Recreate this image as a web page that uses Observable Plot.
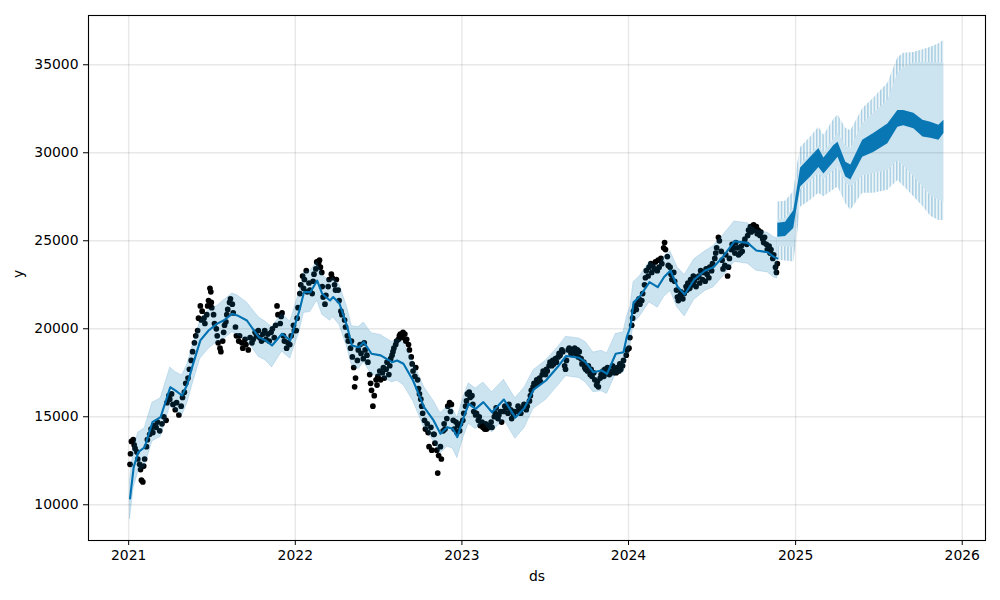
<!DOCTYPE html>
<html><head><meta charset="utf-8">
<script src="https://cdn.jsdelivr.net/npm/d3@7"></script>
<script src="https://cdn.jsdelivr.net/npm/@observablehq/plot@0.6"></script>
<style>body{margin:0;background:#fff}</style>
</head><body><div id="chart"></div>
<script>
// observed points [ds, y]
const obs = [
["2021-01-04",12300],["2021-01-05",12900],["2021-01-07",13600],["2021-01-11",13700],["2021-01-13",13400],["2021-01-15",13200],["2021-01-19",13000],["2021-01-21",12600],["2021-01-25",12300],["2021-01-27",12000],["2021-01-29",11400],
["2021-02-01",11300],["2021-02-03",12200],["2021-02-05",12600],["2021-02-09",13300],["2021-02-11",13700],["2021-02-16",14000],["2021-02-19",14300],["2021-02-23",14100],["2021-02-25",14500],
["2021-03-02",14400],["2021-03-05",14700],["2021-03-10",14200],["2021-03-15",14600],["2021-03-19",15000],["2021-03-24",14800],["2021-03-26",15800],["2021-03-30",16200],
["2021-04-01",16000],["2021-04-05",16300],["2021-04-08",15700],["2021-04-13",15400],["2021-04-16",15800],["2021-04-21",15100],["2021-04-26",15600],["2021-04-29",16100],
["2021-05-03",16400],["2021-05-06",16900],["2021-05-11",17200],["2021-05-14",17700],["2021-05-18",18200],["2021-05-21",18700],["2021-05-25",19200],["2021-05-28",19600],
["2021-06-01",19900],["2021-06-03",20600],["2021-06-07",21300],["2021-06-09",20500],["2021-06-11",21000],["2021-06-15",20600],["2021-06-17",20300],["2021-06-21",20800],["2021-06-23",21300],["2021-06-25",21600],["2021-06-28",22300],["2021-06-30",22100],
["2021-07-01",21500],["2021-07-02",21200],["2021-07-06",20800],["2021-07-08",20300],["2021-07-12",20000],["2021-07-14",19600],["2021-07-16",19200],["2021-07-20",18900],["2021-07-22",18700],["2021-07-26",19300],["2021-07-28",19800],["2021-07-30",20200],
["2021-08-02",20400],["2021-08-04",20800],["2021-08-06",21100],["2021-08-10",21500],["2021-08-12",21700],["2021-08-16",21400],["2021-08-18",20900],["2021-08-23",20100],["2021-08-25",19600],["2021-08-30",19300],
["2021-09-01",19600],["2021-09-06",19200],["2021-09-08",18900],["2021-09-13",19400],["2021-09-15",19100],["2021-09-20",18800],["2021-09-24",19500],["2021-09-28",19200],
["2021-10-01",19400],["2021-10-05",19800],["2021-10-08",19600],["2021-10-12",19900],["2021-10-15",19500],["2021-10-19",19300],["2021-10-22",19700],["2021-10-26",19900],["2021-10-29",19400],
["2021-11-02",19700],["2021-11-05",19300],["2021-11-09",19800],["2021-11-12",20000],["2021-11-16",19500],["2021-11-19",20200],["2021-11-22",21300],["2021-11-24",20800],["2021-11-29",20300],
["2021-12-01",20700],["2021-12-03",20900],["2021-12-06",19600],["2021-12-08",19300],["2021-12-13",18900],["2021-12-16",19200],["2021-12-20",19100],["2021-12-23",19600],["2021-12-28",20200],["2021-12-30",19900],
["2022-01-03",19900],["2022-01-05",20600],["2022-01-07",21200],["2022-01-11",22000],["2022-01-13",22500],["2022-01-17",23000],["2022-01-19",22300],["2022-01-21",22800],["2022-01-25",23300],["2022-01-27",22100],["2022-01-31",22600],
["2022-02-02",22200],["2022-02-07",22000],["2022-02-09",22700],["2022-02-11",23100],["2022-02-15",23400],["2022-02-17",23800],["2022-02-21",23700],["2022-02-23",23900],["2022-02-25",23500],["2022-02-28",23200],
["2022-03-01",22400],["2022-03-03",21800],["2022-03-07",21400],["2022-03-09",21900],["2022-03-14",22400],["2022-03-16",22800],["2022-03-21",23100],["2022-03-23",22900],["2022-03-28",22500],["2022-03-30",22200],
["2022-04-01",22800],["2022-04-05",22200],["2022-04-07",21600],["2022-04-11",21000],["2022-04-13",20800],["2022-04-19",20500],["2022-04-21",20100],["2022-04-25",19600],["2022-04-27",19300],
["2022-05-02",18900],["2022-05-04",19300],["2022-05-06",18400],["2022-05-09",17800],["2022-05-11",16700],["2022-05-13",17200],["2022-05-17",18200],["2022-05-19",18800],["2022-05-23",19100],["2022-05-25",18600],["2022-05-30",18300],
["2022-06-01",19200],["2022-06-03",18800],["2022-06-07",18500],["2022-06-09",18100],["2022-06-13",17400],["2022-06-15",16900],["2022-06-17",16500],["2022-06-20",15600],["2022-06-23",16200],["2022-06-27",17100],["2022-06-29",16800],
["2022-07-01",17300],["2022-07-05",17600],["2022-07-07",17100],["2022-07-11",17500],["2022-07-13",17800],["2022-07-15",17200],["2022-07-19",17700],["2022-07-21",18100],["2022-07-25",17400],["2022-07-27",17900],["2022-07-29",18300],
["2022-08-01",18500],["2022-08-03",18700],["2022-08-05",18900],["2022-08-09",19100],["2022-08-11",19300],["2022-08-15",19400],["2022-08-17",19600],["2022-08-19",19700],["2022-08-23",19500],["2022-08-25",19800],["2022-08-29",19700],["2022-08-31",19300],
["2022-09-02",19400],["2022-09-06",19100],["2022-09-08",18800],["2022-09-12",18400],["2022-09-14",18000],["2022-09-16",17600],["2022-09-20",17300],["2022-09-22",17800],["2022-09-26",17100],["2022-09-28",16600],["2022-09-30",16300],
["2022-10-03",16000],["2022-10-05",15600],["2022-10-07",15200],["2022-10-11",14800],["2022-10-13",14300],["2022-10-17",14600],["2022-10-19",14100],["2022-10-21",13300],["2022-10-25",14400],["2022-10-27",13100],["2022-10-31",14000],
["2022-11-01",14000],["2022-11-03",13500],["2022-11-07",13100],["2022-11-09",11800],["2022-11-11",12800],["2022-11-15",13300],["2022-11-17",12600],["2022-11-21",14200],["2022-11-23",14600],["2022-11-25",14300],["2022-11-29",14900],
["2022-12-01",15600],["2022-12-05",15800],["2022-12-07",15300],["2022-12-09",15700],["2022-12-13",14800],["2022-12-15",14300],["2022-12-19",14700],["2022-12-21",14100],["2022-12-23",14500],["2022-12-27",14200],["2022-12-29",14600],
["2023-01-03",14800],["2023-01-05",15200],["2023-01-09",15600],["2023-01-11",15900],["2023-01-13",16300],["2023-01-17",16400],["2023-01-19",16100],["2023-01-23",16200],["2023-01-25",15700],["2023-01-27",15300],["2023-01-31",15100],
["2023-02-02",15200],["2023-02-06",14800],["2023-02-08",15000],["2023-02-10",14500],["2023-02-14",14700],["2023-02-16",14400],["2023-02-20",14300],["2023-02-22",14600],["2023-02-24",14300],["2023-02-28",14500],
["2023-03-02",14400],["2023-03-06",14700],["2023-03-08",14400],["2023-03-13",15000],["2023-03-15",15200],["2023-03-17",15500],["2023-03-21",14900],["2023-03-23",15100],["2023-03-27",15300],["2023-03-29",14700],
["2023-04-03",15300],["2023-04-05",15600],["2023-04-10",15500],["2023-04-12",15200],["2023-04-14",15700],["2023-04-18",15400],["2023-04-20",14900],["2023-04-24",15100],["2023-04-26",15300],
["2023-05-02",15300],["2023-05-04",15600],["2023-05-08",15400],["2023-05-10",15200],["2023-05-15",15500],["2023-05-17",15700],["2023-05-22",15400],["2023-05-24",15600],["2023-05-29",15900],["2023-05-31",16200],
["2023-06-02",16500],["2023-06-06",16700],["2023-06-08",16900],["2023-06-12",16800],["2023-06-14",17100],["2023-06-16",16900],["2023-06-20",17200],["2023-06-22",17000],["2023-06-26",17400],["2023-06-28",17600],
["2023-07-03",17400],["2023-07-05",17700],["2023-07-07",17600],["2023-07-11",17900],["2023-07-13",18100],["2023-07-17",17900],["2023-07-19",18200],["2023-07-21",18000],["2023-07-25",18300],["2023-07-27",18100],["2023-07-31",18400],
["2023-08-02",18600],["2023-08-04",18500],["2023-08-08",18800],["2023-08-10",18700],["2023-08-14",17900],["2023-08-16",17700],["2023-08-18",18200],["2023-08-22",18800],["2023-08-24",18900],["2023-08-28",18600],["2023-08-30",18800],
["2023-09-01",18700],["2023-09-05",18900],["2023-09-07",18600],["2023-09-11",18800],["2023-09-13",18400],["2023-09-15",18700],["2023-09-19",18300],["2023-09-21",18000],["2023-09-25",18100],["2023-09-27",17800],["2023-09-29",17700],
["2023-10-03",17600],["2023-10-05",17900],["2023-10-09",17400],["2023-10-11",17700],["2023-10-13",17300],["2023-10-17",17500],["2023-10-19",17100],["2023-10-23",16800],["2023-10-25",17000],["2023-10-27",16700],["2023-10-31",17200],
["2023-11-02",17400],["2023-11-06",17600],["2023-11-08",17300],["2023-11-10",17700],["2023-11-14",17500],["2023-11-16",17800],["2023-11-20",17400],["2023-11-22",17600],["2023-11-27",17900],["2023-11-29",17500],
["2023-12-01",17700],["2023-12-05",17500],["2023-12-07",17800],["2023-12-11",17600],["2023-12-13",18000],["2023-12-15",17700],["2023-12-19",17900],["2023-12-21",18200],["2023-12-27",18500],["2023-12-29",18800],
["2024-01-02",18900],["2024-01-04",19500],["2024-01-08",20200],["2024-01-10",20600],["2024-01-12",21000],["2024-01-16",21300],["2024-01-18",21100],["2024-01-22",21500],["2024-01-24",21700],["2024-01-26",21400],["2024-01-30",21600],
["2024-02-01",22000],["2024-02-05",22500],["2024-02-07",22900],["2024-02-09",23300],["2024-02-13",23000],["2024-02-15",23500],["2024-02-19",23700],["2024-02-21",23200],["2024-02-23",23600],["2024-02-27",23400],["2024-02-29",23800],
["2024-03-04",23300],["2024-03-06",23900],["2024-03-08",23500],["2024-03-12",24000],["2024-03-14",23700],["2024-03-18",24600],["2024-03-20",24900],["2024-03-22",24500],["2024-03-26",24100],["2024-03-28",23600],
["2024-04-01",23500],["2024-04-03",23100],["2024-04-05",22800],["2024-04-09",23200],["2024-04-11",22700],["2024-04-15",22200],["2024-04-17",21800],["2024-04-19",21600],["2024-04-23",21900],["2024-04-25",22100],["2024-04-29",21700],
["2024-05-02",22000],["2024-05-06",22400],["2024-05-08",22200],["2024-05-10",22600],["2024-05-14",22300],["2024-05-16",22800],["2024-05-20",22500],["2024-05-22",23000],["2024-05-24",22700],["2024-05-28",22400],["2024-05-30",22900],
["2024-06-03",23000],["2024-06-05",22600],["2024-06-07",23300],["2024-06-11",22800],["2024-06-13",23200],["2024-06-17",22700],["2024-06-19",23400],["2024-06-21",23100],["2024-06-25",22900],["2024-06-27",23500],
["2024-07-01",23300],["2024-07-03",23700],["2024-07-08",24000],["2024-07-10",24300],["2024-07-12",24600],["2024-07-16",25200],["2024-07-18",25000],["2024-07-22",24400],["2024-07-24",23900],["2024-07-26",23400],["2024-07-30",23600],
["2024-08-01",24200],["2024-08-05",23000],["2024-08-07",23500],["2024-08-09",24000],["2024-08-13",24500],["2024-08-15",24800],["2024-08-19",24600],["2024-08-21",24300],["2024-08-23",24900],["2024-08-27",24600],["2024-08-29",24200],
["2024-09-02",24300],["2024-09-04",24700],["2024-09-06",24400],["2024-09-10",24900],["2024-09-12",25100],["2024-09-16",24800],["2024-09-18",25300],["2024-09-20",25600],["2024-09-24",25800],["2024-09-26",25500],["2024-09-30",25700],
["2024-10-01",25900],["2024-10-03",25600],["2024-10-07",25800],["2024-10-09",25400],["2024-10-11",25600],["2024-10-15",25300],["2024-10-17",25500],["2024-10-21",25100],["2024-10-23",24900],["2024-10-25",25200],["2024-10-29",24800],["2024-10-31",24500],
["2024-11-04",24700],["2024-11-06",24300],["2024-11-08",24500],["2024-11-12",24000],["2024-11-14",24200],["2024-11-18",23500],["2024-11-20",23200],["2024-11-22",23700]
];

// fitted history [ds, yhat, yhat_lower, yhat_upper]
const fit = [
["2021-01-04",10360,9200,11400],["2021-01-12",12140,10950,13250],["2021-01-22",12990,11850,14100],["2021-02-05",13270,12150,14350],
["2021-02-22",14690,13600,15800],["2021-03-12",14980,13850,16050],["2021-04-02",16680,15600,17800],["2021-04-13",16500,15400,17550],
["2021-04-28",16210,15050,17350],["2021-05-10",16880,15800,18000],["2021-05-20",17820,16750,18950],["2021-06-07",19340,18300,20450],
["2021-06-25",19900,18850,21050],["2021-07-14",20290,19250,21300],["2021-07-28",20470,19400,21600],["2021-08-16",20850,19800,22000],
["2021-08-27",20760,19650,21900],["2021-09-17",20470,19350,21500],["2021-10-13",19520,18400,20650],["2021-10-28",19340,18200,20400],
["2021-11-11",19050,17800,20100],["2021-12-03",19720,18700,20850],["2021-12-21",19340,18300,20400],["2022-01-10",21040,19800,22100],
["2022-01-20",22080,20900,23200],["2022-02-03",22080,20950,23300],["2022-02-18",22740,21600,23800],["2022-03-01",21990,20800,23050],
["2022-03-18",21610,20450,22700],["2022-03-25",21800,20650,22900],["2022-04-08",21420,20200,22500],["2022-04-25",20090,18900,21200],
["2022-05-05",19050,17900,20150],["2022-05-20",18950,17700,20100],["2022-05-31",19240,18100,20350],["2022-06-17",18580,17400,19750],
["2022-07-07",18490,17300,19650],["2022-08-01",18100,16950,19250],["2022-08-12",18200,17050,19400],["2022-08-26",18010,16800,19200],
["2022-09-16",17060,15900,18150],["2022-10-10",15550,14400,16700],["2022-10-31",14790,13600,15900],["2022-11-15",14030,12900,15200],
["2022-11-30",14410,13300,15550],["2022-12-12",14320,13200,15450],["2022-12-22",13840,12650,14950],["2023-01-05",14980,13850,16150],
["2023-01-16",15740,14600,16900],["2023-01-31",15450,14300,16600],["2023-02-17",15830,14650,16950],["2023-03-08",15260,14100,16400],
["2023-04-03",15980,14850,17100],["2023-04-28",14950,13750,16050],["2023-05-18",15500,14350,16650],["2023-06-07",16540,15450,17650],
["2023-07-04",17060,15950,18200],["2023-08-01",17900,16800,19000],["2023-08-17",18450,17300,19550],["2023-09-15",18350,17200,19450],
["2023-09-29",18100,16950,19250],["2023-10-16",17530,16400,18650],["2023-11-03",17630,16450,18750],["2023-11-15",17440,16300,18600],
["2023-12-04",18580,17400,19700],["2023-12-21",18670,17500,19800],["2023-12-28",19520,18350,20650],["2024-01-05",20100,18950,21250],
["2024-01-12",21500,20300,22650],["2024-01-26",21850,20700,23000],["2024-02-16",22650,21500,23800],["2024-03-05",22370,21200,23500],
["2024-03-19",22940,21800,24100],["2024-04-02",23310,22150,24400],["2024-04-17",22400,21200,23500],["2024-05-03",21950,20700,23050],
["2024-05-24",22800,21650,23950],["2024-06-17",23310,22150,24400],["2024-07-05",23500,22350,24700],["2024-07-26",24100,22950,25300],
["2024-08-20",24970,23800,26100],["2024-09-18",24880,23700,26000],["2024-10-07",24450,23300,25600],["2024-11-01",24350,23200,25450],
["2024-11-15",24070,22900,25200],["2024-11-22",24000,22850,25150]
];

// forecast [ds, yhat weekly low, yhat weekly high, lower spike, lower base, upper base, upper spike]
const future = [
["2024-11-23",25200,26000,23900,24700,26200,27200],["2024-12-10",25250,26050,23850,24650,26250,27250],
["2024-12-28",25700,26700,23800,24600,26900,27800],["2025-01-05",27000,28000,25300,26300,28300,29300],
["2025-01-12",28050,29130,26900,27900,29300,30300],["2025-02-03",28620,29750,27300,28400,29900,30900],
["2025-02-21",29170,30250,27700,28820,30400,31450],["2025-03-04",28800,29700,27500,28500,30000,31000],
["2025-03-26",29460,30420,27900,29000,30800,31900],["2025-04-04",29750,30600,28050,29170,31100,32150],
["2025-04-21",28620,29460,27100,28300,30400,31400],["2025-05-02",28450,29300,26730,28050,30250,31250],
["2025-05-28",29750,30710,27700,28700,31650,32500],["2025-06-21",30020,31100,27700,28820,32250,33100],
["2025-07-22",30520,31640,27870,29000,32950,33950],["2025-08-13",31450,32400,28430,29560,34500,35400],
["2025-08-26",31530,32400,28100,29250,34850,35650],["2025-09-17",31360,32250,27500,28650,35100,35700],
["2025-10-07",30900,31850,26950,28050,35150,35850],["2025-10-24",30820,31740,26400,27550,35150,36000],
["2025-11-11",30710,31560,26150,27300,35100,36200],["2025-11-22",31100,31850,26150,27200,35100,36400]
];

const xTicks = ["2021-01-01","2022-01-01","2023-01-01","2024-01-01","2025-01-01","2026-01-01"];
const yTicks = [10000, 15000, 20000, 25000, 30000, 35000];
const xDomain = ["2020-10-05","2026-02-21"];
const yDomain = [7970, 37800];

const parse = d3.utcParse("%Y-%m-%d");
const obsData = obs.map(([d, v]) => ({ds: parse(d), y: v}));
const fitData = fit.map(([d, m, lo, hi]) => ({ds: parse(d), yhat: m, lo, hi}));
const futData = future.map(([d, a, b, ls, lb, ub, us]) => ({ds: parse(d), a, b, ls, lb, ub, us}));
const blue = "#0072B2";

const chart = Plot.plot({
  width: 1000, height: 600,
  marginLeft: 88, marginRight: 15, marginTop: 15, marginBottom: 60,
  style: {fontFamily: "'DejaVu Sans', sans-serif", fontSize: "13.9px", background: "white", color: "black"},
  x: {type: "utc", domain: xDomain.map(parse)},
  y: {domain: yDomain},
  marks: [
    Plot.gridX(xTicks.map(parse), {stroke: "#808080", strokeOpacity: 0.18, strokeWidth: 1.4}),
    Plot.gridY(yTicks, {stroke: "#808080", strokeOpacity: 0.18, strokeWidth: 1.4}),
    Plot.dot(obsData, {x: "ds", y: "y", r: 2.85, fill: "black"}),
    Plot.line(fitData, {x: "ds", y: "yhat", stroke: blue, strokeWidth: 2.1}),
    Plot.areaY(futData, {x: "ds", y1: "a", y2: "b", fill: blue, fillOpacity: 0.95}),
    Plot.areaY(fitData, {x: "ds", y1: "lo", y2: "hi", fill: blue, fillOpacity: 0.2, stroke: blue, strokeOpacity: 0.15, strokeWidth: 1}),
    Plot.areaY(futData, {x: "ds", y1: "lb", y2: "ub", fill: blue, fillOpacity: 0.2}),
    Plot.areaY(futData, {x: "ds", y1: "ub", y2: "us", fill: "url(#stripes)"}),
    Plot.areaY(futData, {x: "ds", y1: "ls", y2: "lb", fill: "url(#stripes)"}),
    Plot.axisX(xTicks.map(parse), {tickFormat: d3.utcFormat("%Y"), tickSize: 5, tickPadding: 5, label: null}),
    Plot.axisY(yTicks, {tickFormat: d3.format("d"), tickSize: 5, tickPadding: 5, label: null}),
    Plot.frame({stroke: "black", strokeWidth: 1.1}),
    Plot.text(["ds"], {frameAnchor: "bottom", dy: 40}),
    Plot.text(["y"], {frameAnchor: "left", dx: -70, rotate: -90})
  ]
});

const svg = d3.select(chart);
const defs = svg.insert("defs", ":first-child");
const pat = defs.append("pattern").attr("id", "stripes").attr("patternUnits", "userSpaceOnUse")
  .attr("width", 3.2).attr("height", 10);
pat.append("rect").attr("width", 3.2).attr("height", 10).attr("fill", blue).attr("fill-opacity", 0.07);
pat.append("rect").attr("width", 1.4).attr("height", 10).attr("fill", blue).attr("fill-opacity", 0.3);

document.getElementById("chart").appendChild(chart);
</script>
</body></html>
